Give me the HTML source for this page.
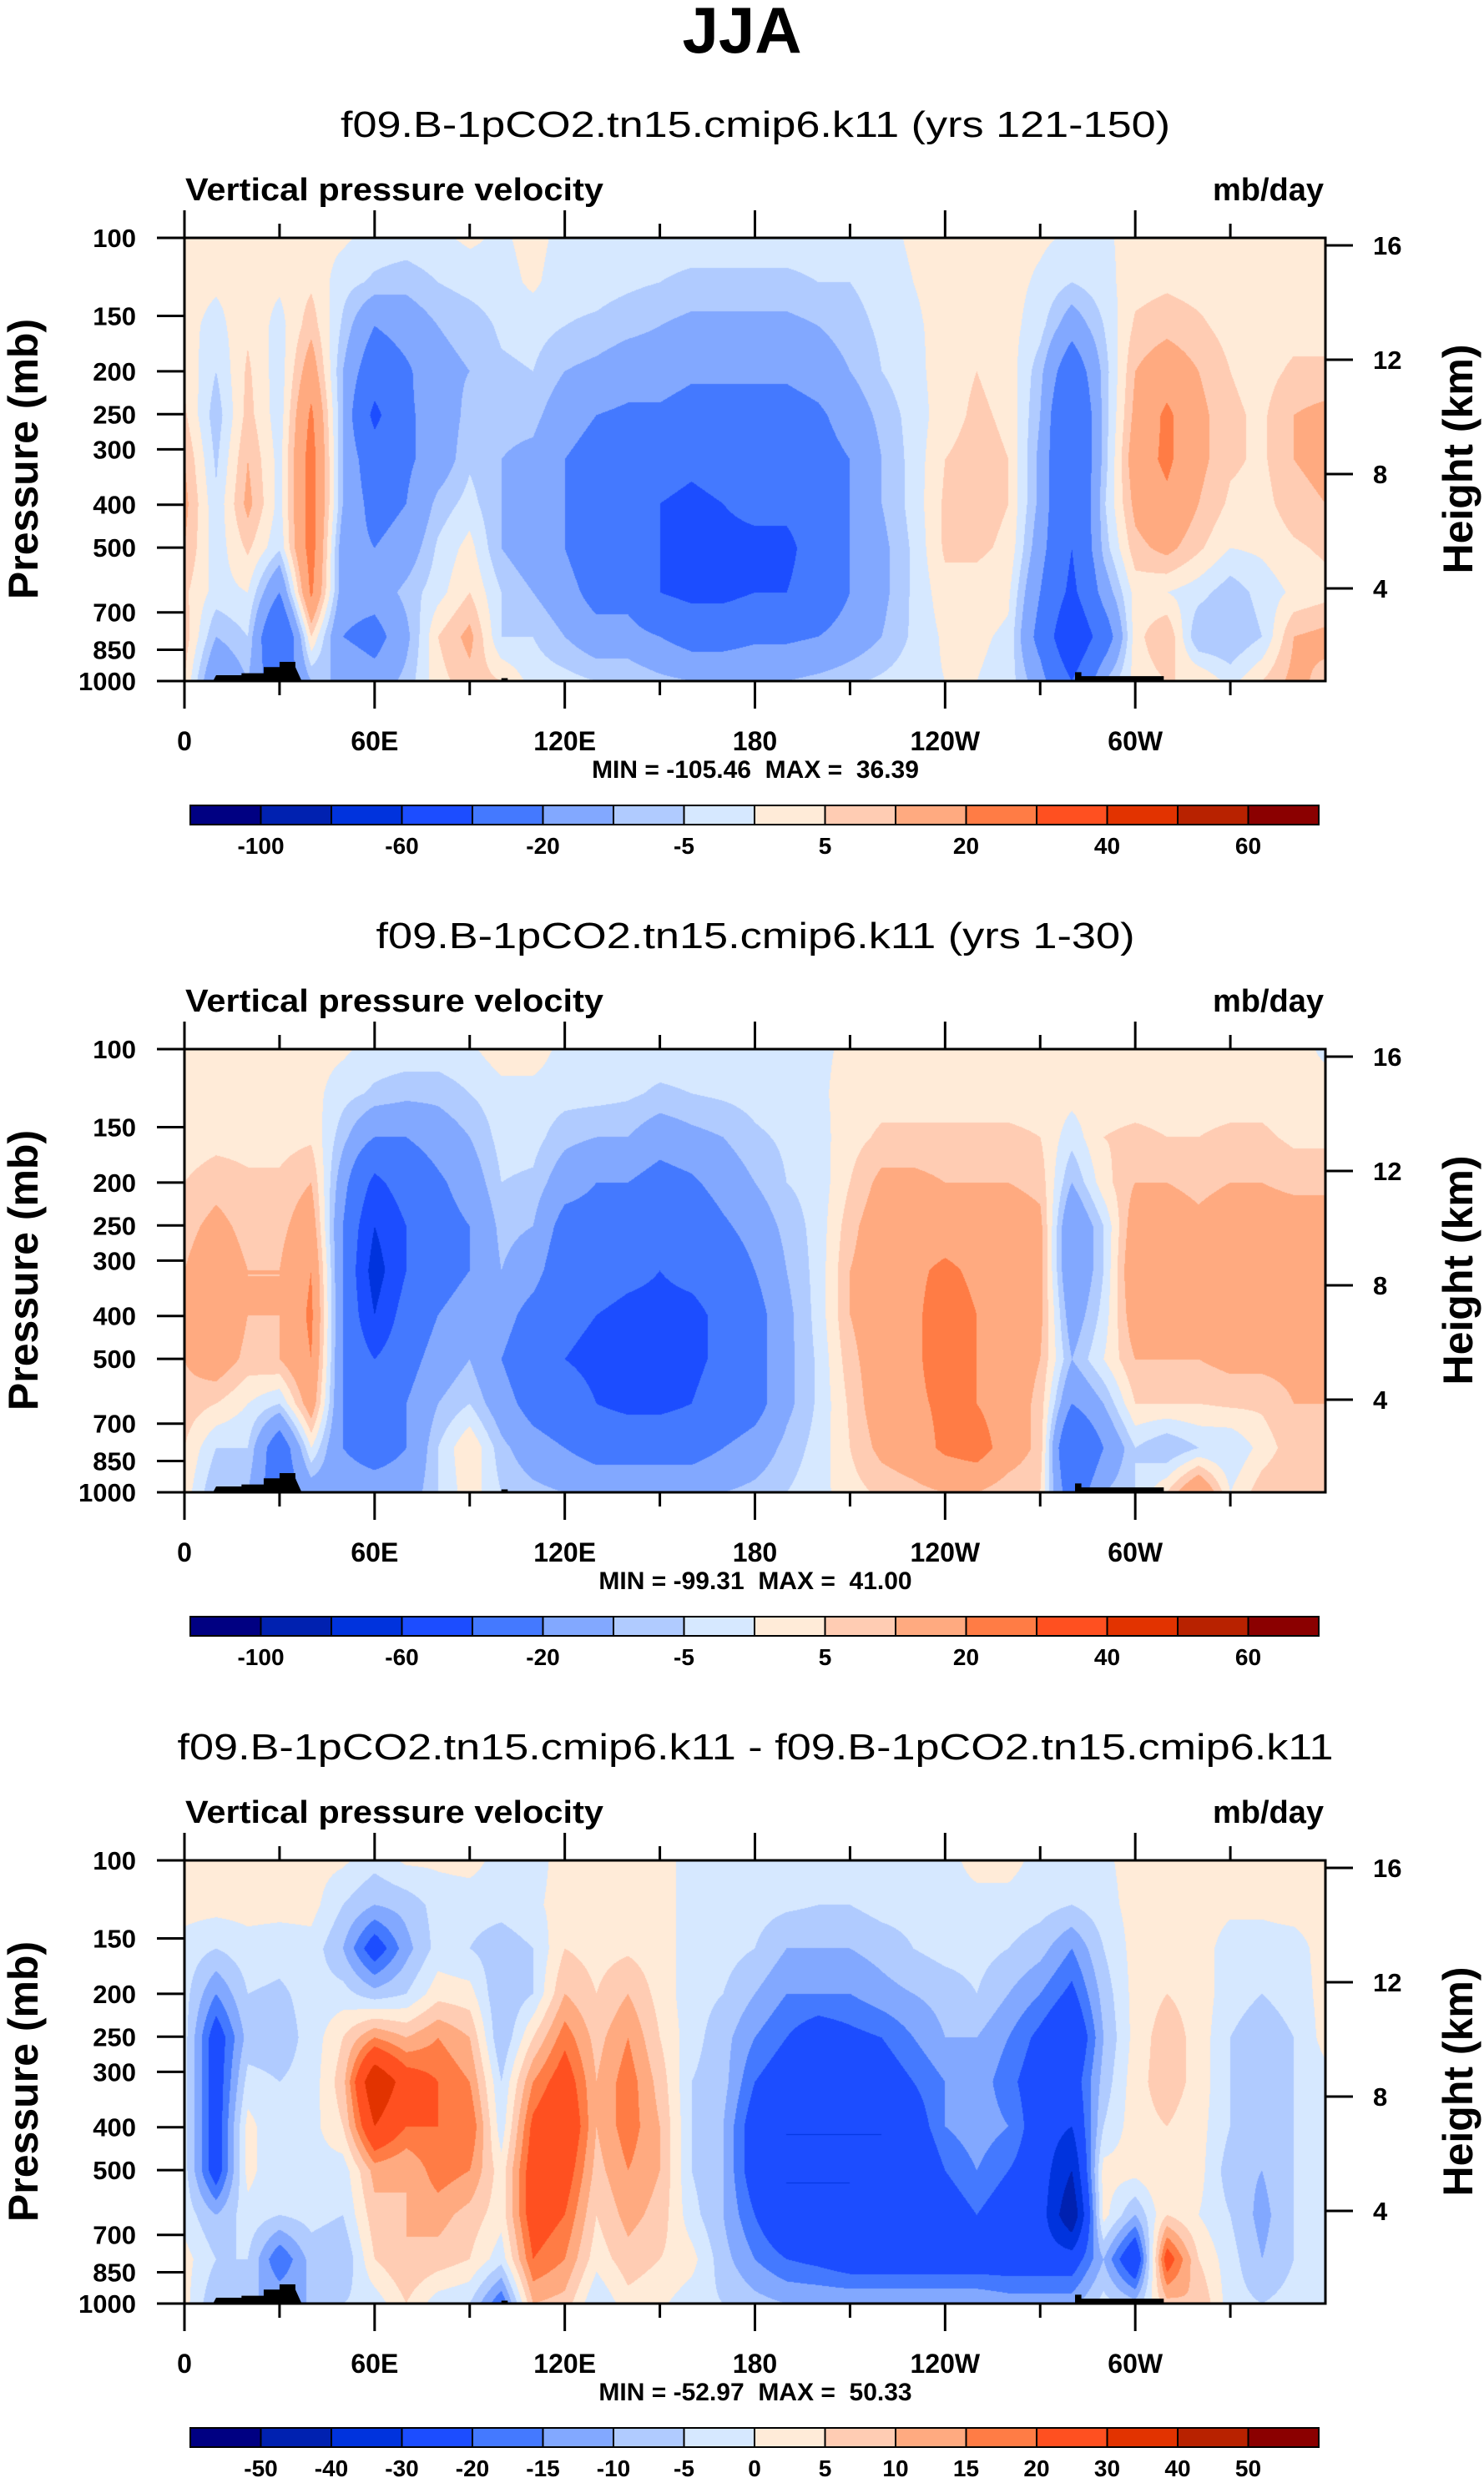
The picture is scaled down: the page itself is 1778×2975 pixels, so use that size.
<!DOCTYPE html>
<html><head><meta charset="utf-8">
<style>
html,body{margin:0;padding:0;background:#fff;}
#wrap{position:relative;width:1778px;height:2975px;overflow:hidden;}
canvas{position:absolute;}
svg{position:absolute;left:0;top:0;}
text{font-family:"Liberation Sans",sans-serif;fill:#000;white-space:pre;}
</style></head>
<body>
<div id="wrap">
<canvas id="c0" width="1367" height="531" style="left:221px;top:285px"></canvas>
<canvas id="c1" width="1367" height="531" style="left:221px;top:1257px"></canvas>
<canvas id="c2" width="1367" height="531" style="left:221px;top:2229px"></canvas>
<svg id="svg" width="1778" height="2975" xmlns="http://www.w3.org/2000/svg">
<text x="889" y="63" font-size="78" font-weight="bold" text-anchor="middle">JJA</text>
</svg>
</div>
<script>
// ---- data ----
const lons = [0,10,20,30,40,50,60,70,80,90,100,110,120,130,140,150,160,170,180,190,200,210,220,230,240,250,260,270,280,290,300,310,320,330,340,350,360];
const pressureLevels = [100,126,158,200,251,316,398,501,631,794,1000];
const pressureTicks = [100,150,200,250,300,400,500,700,850,1000];
const heightTicks = [4,8,12,16];
const lonTickValues = [0,60,120,180,240,300];
const lonTickLabels = ["0","60E","120E","180","120W","60W"];
const levelsAbs = [-100,-80,-60,-40,-20,-10,-5,0,5,10,20,30,40,50,60];
const levelsDiff = [-50,-40,-30,-20,-15,-10,-5,0,5,10,15,20,30,40,50];
const labelsAbs = ["-100","-60","-20","-5","5","20","40","60"];
const labelIdxAbs = [0,2,4,6,8,10,12,14];
const labelsDiff = ["-50","-40","-30","-20","-15","-10","-5","0","5","10","15","20","30","40","50"];
const labelIdxDiff = [0,1,2,3,4,5,6,7,8,9,10,11,12,13,14];
const colors = ["#000082","#0021b0","#0033dd","#1c4dff","#4479ff","#82a8ff","#b0cbff","#d6e8ff","#ffebd8","#ffccb3","#ffaa80","#ff7c45","#ff5020","#e23300","#b82200","#8b0000"];
const topoLons = [9,10,18,18,25,25,30,30,35,35,37,100,100,102,102,281,281,283,283,309,309];
const topoPres = [1000,970,970,960,960,930,930,905,905,930,1000,1000,985,985,1000,1000,955,955,975,975,1000];

const field1 = [
[2,2,2,4,6,10,12,10,6,8,5],[2,1,-2,-5,-8,-6,-4,-3,-2,-10,-20],[1,2,4,6,7,10,12,6,0,-5,-10],[1,1,-2,-3,-3,-2,-2,-4,-20,-40,-30],
[2,4,8,15,22,25,25,25,22,5,-10],[1,-3,-6,-10,-10,-10,-10,-15,-15,-20,-10],[-2,-6,-20,-30,-45,-30,-25,-20,-15,-25,-15],[-2,-8,-15,-22,-22,-22,-20,-15,-8,-12,-8],
[-1,-5,-10,-12,-15,-15,-8,-4,-2,5,3],[1,-3,-8,-10,-8,-6,-3,2,5,12,8],[-1,-2,-4,-6,-8,-10,-10,-10,-5,-5,5],[2,1,-3,-5,-8,-12,-15,-15,-10,-5,-2],
[-2,-3,-5,-10,-15,-20,-20,-20,-15,-10,-3],[-2,-3,-6,-12,-20,-25,-30,-30,-25,-15,-5],[-2,-4,-8,-15,-22,-25,-30,-30,-25,-15,-5],[-3,-5,-10,-15,-22,-30,-40,-40,-40,-20,-8],
[-3,-6,-12,-18,-25,-35,-45,-45,-45,-25,-10],[-3,-6,-12,-18,-25,-30,-40,-45,-45,-25,-10],[-3,-6,-12,-18,-25,-30,-35,-45,-40,-22,-10],[-3,-6,-12,-18,-25,-30,-35,-45,-40,-22,-10],
[-3,-5,-10,-15,-22,-25,-30,-30,-30,-20,-8],[-3,-5,-7,-10,-15,-20,-20,-20,-20,-15,-6],[-2,-3,-4,-5,-8,-10,-10,-12,-12,-10,-4],[1,0,-1,-2,-3,-3,-3,-4,-4,-4,-2],
[2,2,2,3,3,5,6,6,3,1,0],[2,2,3,5,6,7,7,6,3,1,0],[2,2,2,3,4,5,5,4,1,-1,-2],[1,-1,-3,-8,-10,-12,-12,-15,-20,-25,-15],
[-1,-5,-15,-30,-40,-40,-40,-40,-45,-60,-40],[-1,-2,-5,-8,-8,-8,-6,-8,-15,-30,-10],[2,3,6,10,12,15,12,8,2,3,2],[2,4,8,15,22,22,18,12,0,10,5],
[2,3,6,10,12,12,10,6,-3,-10,5],[2,2,3,5,6,6,4,0,-8,-10,-2],[2,2,2,3,4,4,3,1,-3,-5,5],[2,2,3,6,10,10,8,4,1,10,12],[2,2,3,6,12,12,10,6,3,12,8]];
const field2 = [
[2,2,2,5,8,10,10,10,8,5,3],[2,2,3,8,12,15,18,15,5,-5,-10],[2,2,3,6,8,10,10,8,0,-5,-10],[2,2,3,6,8,10,10,10,-5,-30,-30],
[2,2,4,10,15,20,22,20,15,0,-15],[1,-3,-8,-15,-20,-20,-20,-20,-20,-20,-15],[-2,-6,-20,-45,-60,-70,-60,-40,-25,-25,-15],[-2,-8,-20,-30,-40,-40,-30,-25,-20,-20,-15],
[-2,-8,-15,-22,-25,-25,-20,-15,-10,-5,-5],[-1,-5,-10,-15,-20,-20,-15,-10,-5,5,3],[3,-2,-3,-5,-8,-10,-15,-20,-15,-8,-5],[3,-2,-3,-6,-10,-15,-25,-30,-25,-15,-8],
[-2,-3,-8,-15,-25,-30,-35,-40,-30,-20,-10],[-2,-3,-10,-20,-25,-30,-40,-45,-40,-25,-12],[-2,-4,-10,-20,-25,-35,-45,-45,-45,-25,-12],[-2,-6,-15,-25,-30,-40,-45,-45,-45,-25,-12],
[-2,-5,-12,-22,-30,-35,-45,-45,-40,-25,-12],[-2,-4,-10,-15,-22,-30,-35,-35,-30,-20,-10],[-2,-3,-6,-10,-15,-20,-25,-25,-25,-15,-8],[-2,-2,-4,-5,-8,-10,-12,-12,-12,-8,-5],
[-1,-1,-2,-3,-3,-3,-3,-4,-4,-3,-2],[1,2,3,5,8,10,10,8,6,5,3],[1,3,6,12,15,15,15,15,15,12,6],[2,3,6,12,15,18,18,18,18,15,8],
[2,3,6,10,15,22,25,25,22,22,10],[2,3,6,10,15,18,20,20,20,25,10],[2,3,6,10,15,15,15,15,15,15,6],[2,3,5,8,12,12,12,10,8,8,5],
[1,2,-3,-10,-20,-20,-15,-10,-20,-40,-30],[2,3,5,3,-5,-5,-3,0,-10,-20,-10],[2,3,6,10,15,18,15,10,5,-5,-5],[2,3,5,10,15,18,15,10,5,-10,5],
[2,3,5,8,12,15,15,10,5,-5,20],[2,3,6,10,15,15,15,12,6,-5,0],[2,3,6,10,15,15,15,12,6,2,8],[2,2,4,8,15,15,15,12,10,8,10],[-1,2,4,8,15,15,15,12,10,8,5]];
const field3 = [
[2,2,-2,-3,-3,-3,-3,-3,-2,2,2],[2,2,-5,-15,-25,-25,-25,-25,-10,-5,-10],[2,2,-2,-5,-8,-3,2,2,-2,-5,-10],[2,2,-3,-6,-8,-5,-5,-5,-5,-20,-10],
[2,2,-2,-3,-3,-3,-2,-2,-3,-8,-10],[1,-5,-10,-3,5,8,5,-3,-5,-10,-5],[-3,-10,-25,-8,15,40,30,12,8,5,-3],[1,-8,-12,-5,10,25,20,10,10,10,5],
[1,-3,-3,3,15,20,20,18,12,8,-3],[2,-3,-5,2,10,15,20,15,8,5,-5],[-2,-3,-8,-10,-10,-5,-3,2,2,-3,-20],[-2,-1,-5,-5,5,15,22,25,25,20,10],
[2,2,5,10,18,25,30,25,20,15,8],[2,2,3,5,8,10,10,8,5,2,-5],[2,2,4,10,15,18,18,15,12,8,3],[2,2,2,3,5,8,10,10,8,5,1],
[-2,-2,-2,-3,-3,-5,-5,-5,-3,2,-3],[-2,-2,-3,-5,-8,-8,-10,-10,-10,-8,-5],[-2,-3,-5,-10,-15,-20,-25,-25,-20,-15,-8],[-2,-4,-10,-15,-20,-25,-30,-30,-30,-20,-10],
[-2,-5,-10,-15,-25,-30,-30,-30,-30,-22,-10],[-2,-5,-10,-15,-22,-30,-30,-30,-30,-25,-10],[-2,-3,-8,-12,-20,-25,-30,-30,-25,-25,-10],[-2,-3,-5,-10,-15,-20,-25,-30,-25,-25,-10],
[-2,-2,-3,-8,-10,-15,-15,-20,-25,-25,-10],[2,-2,-3,-5,-10,-12,-12,-15,-20,-25,-10],[2,-2,-5,-10,-15,-18,-15,-20,-25,-25,-12],[-2,-3,-8,-15,-22,-25,-25,-25,-25,-25,-12],
[-2,-5,-15,-22,-30,-25,-30,-40,-50,-25,-12],[-1,-2,-5,-8,-10,-8,-5,2,2,-10,-3],[2,2,2,2,2,3,3,2,-10,-30,-8],[2,2,3,5,8,8,5,5,5,25,8],
[2,2,2,3,3,3,2,2,0,5,10],[2,1,-2,-3,-5,-5,-5,-8,-5,-3,-3],[2,1,-2,-5,-8,-10,-10,-10,-12,-10,-5],[2,2,-2,-3,-5,-5,-5,-5,-5,-5,-3],[2,2,2,2,2,-2,-2,-2,-3,-3,-2]];

const panelTitles = ["f09.B-1pCO2.tn15.cmip6.k11 (yrs 121-150)","f09.B-1pCO2.tn15.cmip6.k11 (yrs 1-30)","f09.B-1pCO2.tn15.cmip6.k11 - f09.B-1pCO2.tn15.cmip6.k11"];
const titleWidths = [994,909,1385];
const minMaxText = ["MIN = -105.46  MAX =  36.39","MIN = -99.31  MAX =  41.00","MIN = -52.97  MAX =  50.33"];

// ---- geometry ----
const PX0=221, PW=1367, PH=531, PTOP=285, GAP=972;
function xOf(lon){return PX0 + lon/360*PW;}
function yFracOfP(p){return Math.log10(p/100);}
function yOf(p,top){return top + yFracOfP(p)*PH;}
function yOfH(h,top){return top + 420 - (h-4)*(411/12);}

function colorIdx(v,levels){let i=0;while(i<levels.length && v>=levels[i]) i++;return i;}
function hex(c){return [parseInt(c.substr(1,2),16),parseInt(c.substr(3,2),16),parseInt(c.substr(5,2),16)];}
const rgb = colors.map(hex);

function drawField(cid, field, levels){
  const cv=document.getElementById(cid), ctx=cv.getContext('2d');
  const img=ctx.createImageData(PW,PH), d=img.data;
  const yf=pressureLevels.map(yFracOfP);
  for(let y=0;y<PH;y++){
    const f=(y+0.5)/PH; let r=0; while(r<yf.length-2 && f>yf[r+1]) r++;
    const ty=Math.min(1,Math.max(0,(f-yf[r])/(yf[r+1]-yf[r])));
    for(let x=0;x<PW;x++){
      const lon=(x+0.5)/PW*360; let c=0; while(c<lons.length-2 && lon>lons[c+1]) c++;
      const tx=(lon-lons[c])/(lons[c+1]-lons[c]);
      const v=(field[c][r]*(1-tx)+field[c+1][r]*tx)*(1-ty)+(field[c][r+1]*(1-tx)+field[c+1][r+1]*tx)*ty;
      const k=rgb[colorIdx(v,levels)], o=(y*PW+x)*4;
      d[o]=k[0];d[o+1]=k[1];d[o+2]=k[2];d[o+3]=255;
    }
  }
  ctx.putImageData(img,0,0);
}
drawField('c0',field1,levelsAbs);
drawField('c1',field2,levelsAbs);
drawField('c2',field3,levelsDiff);

const NS="http://www.w3.org/2000/svg", svg=document.getElementById('svg');
function el(tag,attrs,txt){const e=document.createElementNS(NS,tag);for(const k in attrs)e.setAttribute(k,attrs[k]);if(txt!==undefined)e.textContent=txt;svg.appendChild(e);return e;}

for(let pi=0;pi<3;pi++){
  const top=PTOP+pi*GAP, bot=top+PH;
  let e;
  e=el('text',{x:905,y:top-121,'font-size':44,'text-anchor':'middle',textLength:titleWidths[pi],lengthAdjust:'spacingAndGlyphs'},panelTitles[pi]);
  
  
  e=el('text',{x:222,y:top-45,'font-size':38,'font-weight':'bold',textLength:501,lengthAdjust:'spacingAndGlyphs'},'Vertical pressure velocity');
  
  
  e=el('text',{x:1586,y:top-45,'font-size':38,'font-weight':'bold','text-anchor':'end'},'mb/day');
  
  
  // topography
  let dpath='M'+xOf(topoLons[0])+' '+bot;
  for(let i=0;i<topoLons.length;i++){dpath+=' L'+xOf(topoLons[i])+' '+yOf(topoPres[i],top);}
  dpath+=' Z';
  e=el('path',{d:dpath,fill:'#000'});
  
  
  // frame
  e=el('rect',{x:PX0,y:top,width:PW,height:PH,fill:'none',stroke:'#000','stroke-width':3});
  
  
  // lon ticks
  for(let L=0;L<360;L+=30){
    const major=(L%60===0), x=xOf(L);
    e=el('line',{x1:x,x2:x,y1:top-(major?33:17),y2:top,stroke:'#000','stroke-width':3});
    
    
    e=el('line',{x1:x,x2:x,y1:bot,y2:bot+(major?33:17),stroke:'#000','stroke-width':3});
    
    
  }
  for(let i=0;i<lonTickValues.length;i++){
    e=el('text',{x:xOf(lonTickValues[i]),y:bot+83,'font-size':32,'font-weight':'bold','text-anchor':'middle'},lonTickLabels[i]);
    
    
  }
  // pressure ticks
  for(const p of pressureTicks){
    const y=yOf(p,top);
    e=el('line',{x1:188,x2:PX0,y1:y,y2:y,stroke:'#000','stroke-width':3});
    
    
    e=el('text',{x:163,y:y+11,'font-size':31,'font-weight':'bold','text-anchor':'end'},String(p));
    
    
  }
  // height ticks
  for(const h of heightTicks){
    const y=yOfH(h,top);
    e=el('line',{x1:1588,x2:1621,y1:y,y2:y,stroke:'#000','stroke-width':3});
    
    
    e=el('text',{x:1645,y:y+11,'font-size':31,'font-weight':'bold'},String(h));
    
    
  }
  e=el('text',{x:0,y:0,'font-size':50,'font-weight':'bold','text-anchor':'middle',transform:'translate(45,'+(top+265)+') rotate(-90)'},'Pressure (mb)');
  
  
  e=el('text',{x:0,y:0,'font-size':50,'font-weight':'bold','text-anchor':'middle',transform:'translate(1764,'+(top+265)+') rotate(-90)'},'Height (km)');
  
  
  e=el('text',{x:905,y:bot+116,'font-size':30,'font-weight':'bold','text-anchor':'middle'},minMaxText[pi]);
  
  
  // colorbar
  const cbx=228, cbw=1352, bw=cbw/16, cby=bot+149;
  for(let i=0;i<16;i++){
    e=el('rect',{x:cbx+i*bw,y:cby,width:bw,height:23,fill:colors[i],stroke:'#000','stroke-width':2});
    
    
  }
  const labs = pi<2?labelsAbs:labelsDiff, idx = pi<2?labelIdxAbs:labelIdxDiff;
  for(let i=0;i<labs.length;i++){
    e=el('text',{x:cbx+(idx[i]+1)*bw,y:bot+207,'font-size':28,'font-weight':'bold','text-anchor':'middle'},labs[i]);
    
    
  }
}
</script>
</body></html>
